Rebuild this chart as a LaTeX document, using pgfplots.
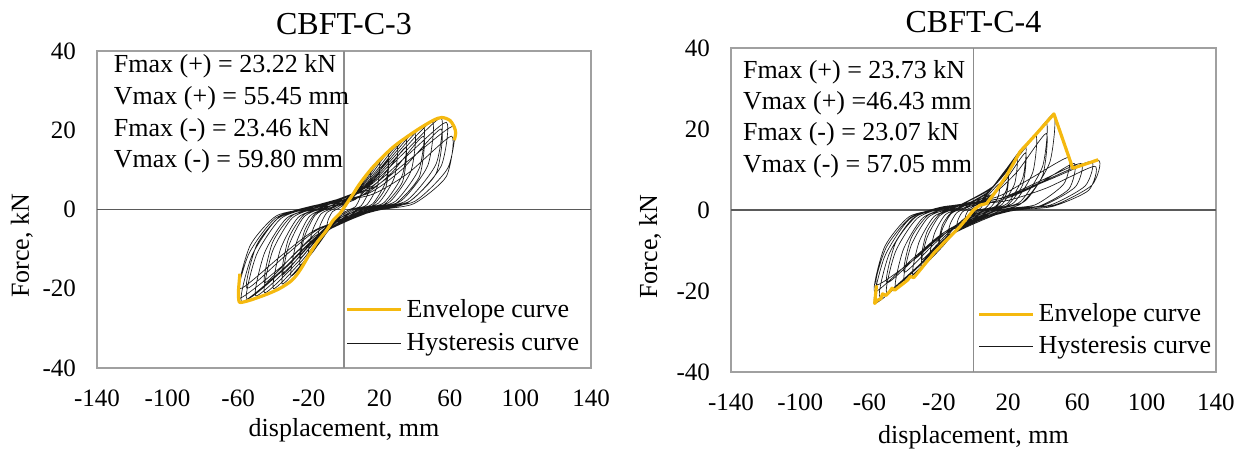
\documentclass[border=0pt]{standalone}
\usepackage{fontspec}
\setmainfont{Liberation Serif}
\usepackage{pgfplots}
\pgfplotsset{compat=1.18}
\definecolor{envc}{RGB}{245,185,15}
\definecolor{boxgray}{RGB}{160,160,160}
\definecolor{hz}{RGB}{90,90,90}
\definecolor{vz}{RGB}{140,140,140}
\pgfplotsset{
  hyst/.style={
    scale only axis,
    anchor=south west,
    xmin=-140, xmax=140, ymin=-40, ymax=40,
    xtick={-140,-100,-60,-20,20,60,100,140},
    xticklabels={-140,-100,-60,-20,20,60,100,140},
    ytick={-40,-20,0,20,40},
    yticklabels={-40,-20,0,20,40},
    major tick length=0pt,
    tick style={draw=none},
    axis line style={boxgray, line width=0.6pt},
    ticklabel style={font=\fontsize{12.5}{15}\selectfont},
    xticklabel style={yshift=-7.5pt},
    yticklabel style={xshift=-7pt},
    xlabel={displacement, mm},
    ylabel={Force, kN},
    every axis title shift=0pt,
    title style={font=\fontsize{16}{19}\selectfont, anchor=center},
    legend style={draw=none, fill=none, font=\fontsize{13}{15}\selectfont},
    legend cell align=left,
    reverse legend,
    legend image code/.code={\draw[#1] (0pt,0pt) -- (27pt,0pt);},
  },
  hline/.style={black!90, line width=0.33pt, smooth, tension=0.4},
  eline/.style={envc, line width=1.6pt, line join=round},
}
\begin{document}
\begin{tikzpicture}
\useasboundingbox (0,0) rectangle (622pt,225pt);
% ---------------- CBFT-C-3 ----------------
\begin{axis}[hyst, at={(48.5pt,41pt)}, width=247pt, height=158.5pt,
  title={CBFT-C-3}, title style={at={(axis description cs:0.5,1.085)}},
  every axis x label/.style={at={(axis description cs:0.5,-0.196)}, anchor=center, font=\fontsize{13}{15}\selectfont},
  every axis y label/.style={at={(axis description cs:-0.152,0.385)}, anchor=center, rotate=90, font=\fontsize{13}{15}\selectfont},
  legend style={at={(axis description cs:0.49,0.243)}, anchor=north west, row sep=2.5pt}]
\draw[vz, line width=0.6pt] (axis cs:0,-40) -- (axis cs:0,40);
\draw[hz, line width=0.6pt] (axis cs:-140,0) -- (axis cs:140,0);
\addplot[hline] coordinates {
(0,0)
(2.5,1.75) (6,4.2) (10,7) (9.5,3.5) (6.5,0.7) (3,0) (-2.5,-1.48) (-6,-3.45) (-10,-5.3) (-9,-2.65) (-6.5,-0.53) (-3,0.3)
(3.75,2.38) (9,5.7) (15,9.5) (14.25,4.75) (9.75,0.95) (4.5,0) (-3.75,-2.24) (-9,-5.2) (-15,-8) (-13.5,-4) (-9.75,-0.8) (-4.5,0.4)
(5,3) (12,7.2) (20,12) (19,6) (13,1.2) (6,0) (-5,-3.08) (-12,-7.15) (-20,-11) (-18,-5.5) (-13,-1.1) (-6,0.45)
(6.25,3.55) (15,8.52) (25,14.2) (23.75,7.1) (16.25,1.42) (7.5,0) (-6.25,-3.92) (-15,-9.1) (-25,-14) (-22.5,-7) (-16.25,-1.4) (-7.5,0.5)
(6.25,2.5) (15,6.25) (25,12.5) (23.75,5.63) (16.25,1.0) (7.5,-0.3) (-6.25,-2.95) (-15,-7.13) (-25,-12.3) (-22.5,-5.54) (-16.25,-0.98) (-7.5,0.4)
(7.5,4) (18,9.6) (30,16) (28.5,8) (19.5,1.6) (9,0) (-7.5,-4.7) (-18,-10.92) (-30,-16.8) (-27,-8.4) (-19.5,-1.68) (-9,0.55)
(8.75,4.45) (21,10.68) (35,17.8) (33.25,8.9) (22.75,1.78) (10.5,0) (-8.75,-5.26) (-21,-12.22) (-35,-18.8) (-31.5,-9.4) (-22.75,-1.88) (-10.5,0.6)
(8.75,3.14) (21,7.85) (35,15.7) (33.25,7.07) (22.75,1.26) (10.5,-0.3) (-8.75,-3.96) (-21,-9.57) (-35,-16.5) (-31.5,-7.43) (-22.75,-1.32) (-10.5,0.4)
(10,4.88) (24,11.7) (40,19.5) (38,9.75) (26,1.95) (12,0) (-10,-5.6) (-24,-13) (-40,-20) (-36,-10) (-26,-2) (-12,0.65)
(11.25,5.25) (27,12.6) (45,21) (42.75,10.5) (29.25,2.1) (13.5,0) (-11.25,-5.88) (-27,-13.65) (-45,-21) (-40.5,-10.5) (-29.25,-2.1) (-13.5,0.7)
(11.25,3.7) (27,9.25) (45,18.5) (42.75,8.33) (29.25,1.48) (13.5,-0.3) (-11.25,-4.44) (-27,-10.73) (-45,-18.5) (-40.5,-8.33) (-29.25,-1.48) (-13.5,0.4)
(12.5,5.55) (30,13.32) (50,22.2) (47.5,11.1) (32.5,2.22) (15,0) (-12.5,-6.1) (-30,-14.17) (-50,-21.8) (-45,-10.9) (-32.5,-2.18) (-15,0.75)
(13.75,5.78) (33,13.86) (55,23.1) (52.25,11.55) (35.75,2.31) (16.5,0) (-13.75,-6.33) (-33,-14.69) (-55,-22.6) (-49.5,-11.3) (-35.75,-2.26) (-16.5,0.8)
(13.75,4.06) (33,10.15) (55,20.3) (52.25,9.14) (35.75,1.62) (16.5,-0.3) (-13.75,-4.78) (-33,-11.54) (-55,-19.9) (-49.5,-8.96) (-35.75,-1.59) (-16.5,0.4)
(14.5,5.5) (34.8,13.2) (58,22) (55.1,11) (37.7,2.2) (17.4,0) (-14.5,-6.52) (-34.8,-15.15) (-58,-23.3) (-52.2,-11.65) (-37.7,-2.33) (-17.4,0.85)
(15.5,5.25) (37.2,12.6) (62,21) (58.9,10.5) (40.3,2.1) (18.6,0) (-15,-6.3) (-36,-14.63) (-60,-22.5) (-54,-11.25) (-39,-2.25) (-18,0.9)
(15.25,3.7) (36.6,9.25) (61,18.5) (58,8.33) (39.65,1.48) (18.3,-0.3) (-14.75,-4.8) (-35.4,-11.6) (-59,-20) (-53.1,-9) (-38.35,-1.6) (-17.7,0.4)
(0,1.2)
};
\addlegendentry{Hysteresis curve}
\addplot[eline, smooth, tension=0.5] coordinates {
(-59.0,-16.2) (-59.8,-20.5) (-59.6,-23.0) (-58.5,-23.46) (-53.3,-22.9) (-43.8,-21.4) (-36.3,-19.9) (-29.6,-17.9) (-24.9,-15.3) (-19.3,-11.1) (-15.5,-8.4) (-13.6,-7.3) (-9.8,-5.2) (-6.1,-2.7) (-2.3,-1.0) (1.5,1.5) (5.3,4.0) (9.1,6.6) (16.6,10.8) (28,15.8) (41.2,20.0) (50.6,22.5) (55.45,23.22) (60,22.5) (62.5,20.8) (63.3,19.3) (62.5,17.5)
};
\addlegendentry{Envelope curve}
\node[anchor=base west, font=\fontsize{13}{15}\selectfont] at (axis description cs:0.02,0.931) {Fmax (+) = 23.22 kN};
\node[anchor=base west, font=\fontsize{13}{15}\selectfont] at (axis description cs:0.02,0.830) {Vmax (+) = 55.45 mm};
\node[anchor=base west, font=\fontsize{13}{15}\selectfont] at (axis description cs:0.02,0.729) {Fmax (-) = 23.46 kN};
\node[anchor=base west, font=\fontsize{13}{15}\selectfont] at (axis description cs:0.02,0.631) {Vmax (-) = 59.80 mm};
\end{axis}
% ---------------- CBFT-C-4 ----------------
\begin{axis}[hyst, at={(365.5pt,39pt)}, width=242.5pt, height=162pt,
  title={CBFT-C-4}, title style={at={(axis description cs:0.5,1.08)}},
  every axis x label/.style={at={(axis description cs:0.5,-0.2)}, anchor=center, font=\fontsize{13}{15}\selectfont},
  every axis y label/.style={at={(axis description cs:-0.167,0.387)}, anchor=center, rotate=90, font=\fontsize{13}{15}\selectfont},
  legend style={at={(axis description cs:0.495,0.236)}, anchor=north west, row sep=1.5pt}]
\draw[vz, line width=0.6pt] (axis cs:0,-40) -- (axis cs:0,40);
\draw[hz, line width=0.6pt] (axis cs:-140,0) -- (axis cs:140,0);
\addplot[hline] coordinates {
(0,0)
(1.25,0.38) (3,0.9) (5,1.5) (4.75,0.75) (3.25,0.15) (1.5,0) (-1.25,-0.73) (-3,-1.69) (-5,-2.6) (-4.5,-1.3) (-3.25,-0.26) (-1.5,0.2)
(2.5,0.88) (6,2.1) (10,3.5) (9.5,1.75) (6.5,0.35) (3,0) (-2.5,-1.4) (-6,-3.25) (-10,-5) (-9,-2.5) (-6.5,-0.5) (-3,0.3)
(3.75,1.63) (9,3.9) (15,6.5) (14.25,3.25) (9.75,0.65) (4.5,0) (-3.75,-1.96) (-9,-4.55) (-15,-7) (-13.5,-3.5) (-9.75,-0.7) (-4.5,0.4)
(5,2.5) (12,6) (20,10) (19,5) (13,1) (6,0) (-5,-2.66) (-12,-6.18) (-20,-9.5) (-18,-4.75) (-13,-0.95) (-6,0.45)
(5,1.76) (12,4.4) (20,8.8) (19,3.96) (13,0.7) (6,-0.3) (-5,-2.02) (-12,-4.87) (-20,-8.4) (-18,-3.78) (-13,-0.67) (-6,0.4)
(6.25,3.25) (15,7.8) (25,13) (23.75,6.5) (16.25,1.3) (7.5,0) (-6.25,-3.22) (-15,-7.48) (-25,-11.5) (-22.5,-5.75) (-16.25,-1.15) (-7.5,0.5)
(7.5,4) (18,9.6) (30,16) (28.5,8) (19.5,1.6) (9,0) (-7.5,-3.92) (-18,-9.1) (-30,-14) (-27,-7) (-19.5,-1.4) (-9,0.55)
(7.5,2.82) (18,7.05) (30,14.1) (28.5,6.35) (19.5,1.13) (9,-0.3) (-7.5,-2.95) (-18,-7.13) (-30,-12.3) (-27,-5.54) (-19.5,-0.98) (-9,0.4)
(9,4.63) (21.6,11.1) (36,18.5) (34.2,9.25) (23.4,1.85) (10.8,0) (-8.75,-4.48) (-21,-10.4) (-35,-16) (-31.5,-8) (-22.75,-1.6) (-10.5,0.6)
(10.5,5.38) (25.2,12.9) (42,21.5) (39.9,10.75) (27.3,2.15) (12.6,0) (-10,-4.9) (-24,-11.38) (-40,-17.5) (-36,-8.75) (-26,-1.75) (-12,0.65)
(10.5,3.78) (25.2,9.45) (42,18.9) (39.9,8.5) (27.3,1.51) (12.6,-0.3) (-10,-3.7) (-24,-8.93) (-40,-15.4) (-36,-6.93) (-26,-1.23) (-12,0.4)
(11.6,5.93) (27.8,14.2) (46.4,23.7) (44.1,11.85) (30.2,2.37) (13.9,0) (-11.25,-5.46) (-27,-12.68) (-45,-19.5) (-40.5,-9.75) (-29.25,-1.95) (-13.5,0.7)
(13.75,3.25) (33,7.8) (55,13) (52.25,6.5) (35.75,1.3) (16.5,0) (-12.5,-5.74) (-30,-13.33) (-50,-20.5) (-45,-10.25) (-32.5,-2.05) (-15,0.75)
(14.5,2.3) (34.8,5.75) (58,11.5) (55.1,5.18) (37.7,0.92) (17.4,-0.3) (-12.5,-4.32) (-30,-10.44) (-50,-18) (-45,-8.1) (-32.5,-1.44) (-15,0.4)
(15.5,2.88) (37.2,6.9) (62,11.5) (58.9,5.75) (40.3,1.15) (18.6,0) (-13.5,-6.02) (-32.4,-13.98) (-54,-21.5) (-48.6,-10.75) (-35.1,-2.15) (-16.2,0.8)
(17,3) (40.8,7.2) (68,12) (64.6,6) (44.2,1.2) (20.4,0) (-14.25,-6.44) (-34.2,-14.95) (-57,-23) (-51.3,-11.5) (-37.05,-2.3) (-17.1,0.85)
(17.5,2.16) (42,5.4) (70,10.8) (66.5,4.86) (45.5,0.86) (21,-0.3) (-14.25,-4.85) (-34.2,-11.7) (-57,-20.2) (-51.3,-9.09) (-37.05,-1.62) (-17.1,0.4)
(18,3.08) (43.2,7.38) (72,12.3) (68.4,6.15) (46.8,1.23) (21.6,0) (-14,-5.18) (-33.6,-12.03) (-56,-18.5) (-50.4,-9.25) (-36.4,-1.85) (-16.8,0.8)
(0,1.0)
};
\addlegendentry{Hysteresis curve}
\addplot[eline] coordinates {
(-56.0,-18.6) (-57.05,-23.07) (-55.5,-22.3) (-53.5,-21.9) (-52.5,-20.7) (-50.5,-21.1) (-48.5,-20.2) (-47,-19.3) (-45.5,-19.8) (-38,-17.3) (-36.5,-16.4) (-34.5,-16.7) (-31,-14.9) (-23,-10.7) (-15.5,-7.4) (-7.8,-4.1) (-3.9,-2.1) (0,0) (3.8,1.2) (7.6,1.6) (13.4,4.9) (19.2,8.6) (26.9,14.4) (36.5,18.9) (46.43,23.73) (57.3,10.3) (72,12.4)
};
\addlegendentry{Envelope curve}
\node[anchor=base west, font=\fontsize{13}{15}\selectfont] at (axis description cs:0.0103,0.907) {Fmax (+) = 23.73 kN};
\node[anchor=base west, font=\fontsize{13}{15}\selectfont] at (axis description cs:0.0103,0.809) {Vmax (+) =46.43 mm};
\node[anchor=base west, font=\fontsize{13}{15}\selectfont] at (axis description cs:0.0103,0.716) {Fmax (-) = 23.07 kN};
\node[anchor=base west, font=\fontsize{13}{15}\selectfont] at (axis description cs:0.0103,0.617) {Vmax (-) = 57.05 mm};
\end{axis}
\end{tikzpicture}
\end{document}
